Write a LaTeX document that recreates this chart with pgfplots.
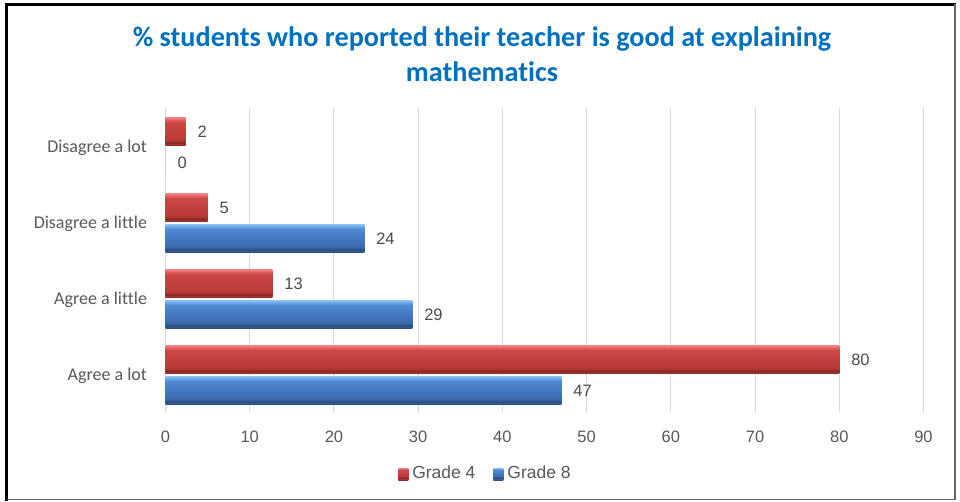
\documentclass[border=0pt]{standalone}
\usepackage{pgfplots}
\pgfplotsset{compat=1.18}
\usepackage{fontspec}
\setmainfont{Carlito}[Ligatures={NoCommon}]
\newfontfamily\arialf{Liberation Sans}
\definecolor{titleblue}{HTML}{0070C0}
\definecolor{lblgray}{HTML}{595959}
\definecolor{gridgray}{HTML}{D9D9D9}
\pgfdeclareverticalshading{redshade}{100bp}{%
  color(0bp)=(rgb,255:red,120;green,36;blue,35); color(25bp)=(rgb,255:red,120;green,36;blue,35);
  color(28bp)=(rgb,255:red,160;green,48;blue,46); color(33bp)=(rgb,255:red,184;green,58;blue,56);
  color(50bp)=(rgb,255:red,196;green,64;blue,62); color(66bp)=(rgb,255:red,204;green,72;blue,70);
  color(70bp)=(rgb,255:red,222;green,96;blue,94); color(75bp)=(rgb,255:red,240;green,128;blue,126);
  color(100bp)=(rgb,255:red,240;green,128;blue,126)}
\pgfdeclareverticalshading{blueshade}{100bp}{%
  color(0bp)=(rgb,255:red,38;green,70;blue,115); color(25bp)=(rgb,255:red,38;green,70;blue,115);
  color(28bp)=(rgb,255:red,50;green,88;blue,144); color(33bp)=(rgb,255:red,62;green,108;blue,174);
  color(50bp)=(rgb,255:red,70;green,122;blue,194); color(66bp)=(rgb,255:red,80;green,138;blue,210);
  color(70bp)=(rgb,255:red,100;green,160;blue,228); color(75bp)=(rgb,255:red,136;green,190;blue,242);
  color(100bp)=(rgb,255:red,136;green,190;blue,242)}
\pgfplotsset{
  sqlegend/.style={legend image code/.code={\path[##1] (0pt,-5pt) rectangle (10pt,5pt);}},
  redbar/.style={draw=none, shade, shading=redshade, bar shift=0.204, sqlegend,
    preaction={fill=black!9, transform canvas={yshift=-2.5pt}}},
  bluebar/.style={draw=none, shade, shading=blueshade, bar shift=-0.204, sqlegend,
    preaction={fill=black!9, transform canvas={yshift=-2.5pt}}},
}
\begin{document}
\begin{tikzpicture}[x=1pt,y=1pt]
\path[use as bounding box] (0,0) rectangle (960,501);
\fill[white] (0,0) rectangle (960,501);
\node[font=\bfseries\fontsize{28.2}{35}\selectfont, text=titleblue, align=center] at (482,447)
  {\% students who reported their teacher is good at explaining\\mathematics};
\begin{axis}[
  at={(165.5pt,89pt)}, anchor=south west,
  scale only axis, width=758pt, height=304pt,
  xmin=0, xmax=90, ymin=-0.5, ymax=3.5,
  xtick={0,10,...,90}, ytick={0,1,2,3},
  yticklabels={Agree a lot, Agree a little, Disagree a little, Disagree a lot},
  axis line style={draw=none},
  major tick length=0pt,
  xmajorgrids, grid style={draw=gridgray, line width=1pt},
  /pgf/number format/assume math mode=true,
  xticklabel style={font=\arialf\fontsize{16.5}{20}\selectfont, text=lblgray, yshift=-15pt},
  yticklabel style={font=\fontsize{18}{22}\selectfont, text=lblgray, xshift=-15pt, yshift=-2pt},
  xbar, bar width=0.34,
  nodes near coords={\pgfmathprintnumber[fixed,precision=0]{\pgfplotspointmeta}},
  every node near coord/.append style={font=\arialf\fontsize{16.5}{20}\selectfont, text=lblgray!85!black, anchor=west, xshift=8.5pt, yshift=-1pt},
  legend style={at={(0.4215,-0.2007)}, anchor=center, draw=none, fill=none,
    legend columns=2, font=\arialf\fontsize{17.5}{21}\selectfont, text=lblgray,
    /tikz/every odd column/.append style={column sep=3pt},
    /tikz/every even column/.append style={column sep=17pt},
    nodes={inner sep=1pt}},
]
% Grade 4 (legend entry)
\addplot[redbar] coordinates {(80,0)};
\addlegendentry{Grade 4}
\addplot[redbar, forget plot] coordinates {(12.7,1)};
\addplot[redbar, forget plot] coordinates {(5,2)};
\addplot[redbar, forget plot] coordinates {(2.4,3)};
% Grade 8
\addplot[bluebar] coordinates {(47,0)};
\addlegendentry{Grade 8}
\addplot[bluebar, forget plot] coordinates {(29.3,1)};
\addplot[bluebar, forget plot] coordinates {(23.6,2)};
\addplot[bluebar, forget plot] coordinates {(0,3)};
\end{axis}
\draw[black, line width=3pt] (6.5,0) -- (6.5,496.5) -- (956,496.5);
\draw[black!60, line width=1.2pt] (955,496.5) -- (955,1.7) -- (6.5,1.7);
\end{tikzpicture}
\end{document}
